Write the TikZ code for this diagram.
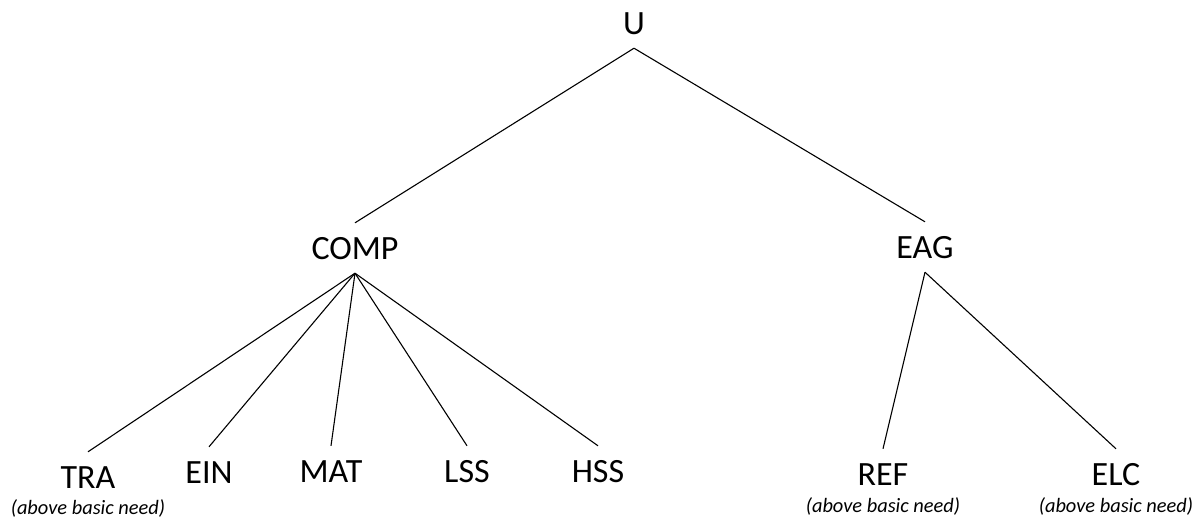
\documentclass[tikz,border=0pt]{standalone}
\usepackage{fontspec}
\setmainfont{Carlito}
\usepackage{tikz}
\usetikzlibrary{positioning, calc}

\begin{document}
\begin{tikzpicture}[
  x=1pt, y=-1pt,
  tag/.style={font=\fontsize{34}{34}\selectfont, inner xsep=0pt, inner ysep=14pt,
              text height=22pt, text depth=0pt},
  note/.style={font=\fontsize{20.4}{20.4}\selectfont\itshape, inner sep=0pt},
  edge/.style={draw=black, line width=1.1pt},
]
  \useasboundingbox (0,0) rectangle (1203,520);
  \node[tag] (u)    at (634,23)  {U};
  \node[tag] (comp) at (355,248) {COMP};
  \node[tag] (eag)  at (925,247) {EAG};
  \node[tag] (tra)  at (88,477)  {TRA};
  \node[tag] (ein)  at (209,472) {EIN};
  \node[tag] (mat)  at (331,471) {MAT};
  \node[tag] (lss)  at (467,471) {LSS};
  \node[tag] (hss)  at (598,471) {HSS};
  \node[tag] (ref)  at (883,474) {REF};
  \node[tag] (elc)  at (1116,474) {ELC};
  \node[note] (traNote) at (88,508)   {(above basic need)};
  \node[note] (refNote) at (883,506)  {(above basic need)};
  \node[note] (elcNote) at (1116,506) {(above basic need)};
  \foreach \from/\to in {u/comp, u/eag, comp/tra, comp/ein, comp/mat, comp/lss,
                         comp/hss, eag/ref, eag/elc} {
    \draw[edge] (\from.south) -- (\to.north);
  }
\end{tikzpicture}
\end{document}
